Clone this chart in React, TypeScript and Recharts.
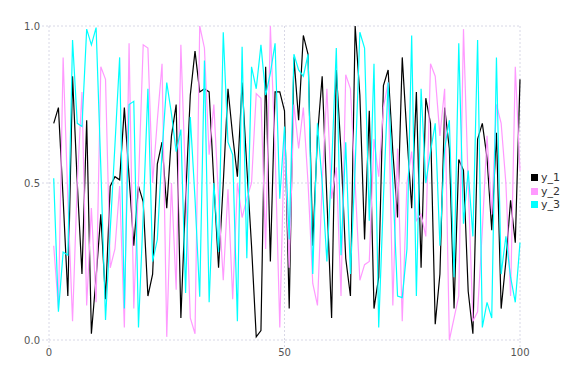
import { LineChart, Line, XAxis, YAxis, CartesianGrid, Legend } from "recharts";

const xs = Array.from({ length: 100 }, (_, i) => i + 1);

const y1 = [
  0.69, 0.74, 0.45, 0.14, 0.84, 0.5, 0.21, 0.7, 0.02, 0.2,
  0.4, 0.13, 0.49, 0.52, 0.51, 0.74, 0.52, 0.3, 0.49, 0.44,
  0.14, 0.21, 0.56, 0.63, 0.42, 0.65, 0.75, 0.07, 0.45, 0.78,
  0.92, 0.79, 0.8, 0.79, 0.5, 0.23, 0.5, 0.8, 0.65, 0.52,
  0.82, 0.55, 0.3, 0.01, 0.03, 0.87, 0.25, 0.79, 0.79, 0.73,
  0.1, 0.9, 0.7, 0.97, 0.91, 0.3, 0.65, 0.84, 0.45, 0.07,
  0.86, 0.6, 0.26, 0.14, 1.0, 0.78, 0.32, 0.73, 0.1, 0.2,
  0.81, 0.86, 0.6, 0.39, 0.9, 0.65, 0.42, 0.79, 0.23, 0.77,
  0.69, 0.05, 0.21, 0.74, 0.61, 0.1, 0.575, 0.54, 0.155, 0.02,
  0.64, 0.69, 0.58, 0.35, 0.66, 0.1, 0.25, 0.445, 0.31, 0.83,
];

const y2 = [
  0.3, 0.1, 0.9, 0.45, 0.06, 0.5, 0.79, 0.11, 0.42, 0.12,
  0.87, 0.83, 0.23, 0.29, 0.49, 0.04, 0.945, 0.1, 0.5, 0.94,
  0.93, 0.5, 0.7, 0.88, 0.01, 0.5, 0.16, 0.94, 0.5, 0.07,
  0.02, 1.0, 0.93, 0.59, 0.75, 0.45, 0.19, 0.48, 0.13, 0.5,
  0.39, 0.45, 0.5, 0.785, 0.77, 0.29, 1.0, 0.6, 0.04, 0.66,
  0.23, 0.75, 0.61, 0.74, 0.5, 0.18, 0.11, 0.5, 0.8, 0.45,
  0.55, 0.14, 0.845, 0.8, 0.5, 0.19, 0.24, 0.25, 0.64, 0.52,
  0.74, 0.82, 0.11, 0.61, 0.06, 0.5, 0.6, 0.38, 0.4, 0.33,
  0.88, 0.84, 0.65, 0.8, 0.0, 0.07, 0.14, 0.99, 0.5, 0.06,
  0.09, 0.35, 0.65, 0.4, 0.75, 0.69, 0.5, 0.14, 0.87, 0.54,
];

const y3 = [
  0.515, 0.09, 0.28, 0.27, 0.955, 0.69, 0.68, 0.99, 0.94, 0.995,
  0.55, 0.064, 0.35, 0.62, 0.9, 0.1, 0.75, 0.76, 0.04, 0.4,
  0.8, 0.25, 0.32, 0.6, 0.82, 0.72, 0.6, 0.67, 0.15, 0.71,
  0.45, 0.138, 0.89, 0.12, 0.5, 0.28, 0.98, 0.63, 0.59, 0.06,
  0.934, 0.26, 0.87, 0.8, 0.94, 0.78, 0.85, 0.945, 0.45, 0.68,
  0.32, 0.91, 0.86, 0.84, 0.91, 0.21, 0.69, 0.5, 0.25, 0.55,
  0.93, 0.27, 0.63, 0.21, 0.55, 0.98, 0.93, 0.38, 0.88, 0.04,
  0.45, 0.82, 0.5, 0.14, 0.135, 0.29, 0.97, 0.14, 0.8, 0.5,
  0.6, 0.69, 0.3, 0.61, 0.7, 0.2, 0.945, 0.37, 0.54, 0.33,
  0.955, 0.04, 0.12, 0.07, 0.9, 0.21, 0.33, 0.2, 0.12, 0.31,
];

const xTicks = [0, 50, 100];
const yTicks = [0, 0.5, 1];

const series = [
  { key: "y_1", color: "#000000" },
  { key: "y_2", color: "#ff99ff" },
  { key: "y_3", color: "#00ffff" },
];

const data = xs.map((x, i) => ({ x, y_1: y1[i], y_2: y2[i], y_3: y3[i] }));

const gridColor = "#d8d8e6";
const tickStyle = { fill: "#555", fontSize: 10, fontFamily: "DejaVu Sans" };

const LegendBox = () => (
  <div style={{ fontFamily: "DejaVu Sans", fontSize: 11, color: "#333" }}>
    {series.map((s) => (
      <div key={s.key} style={{ display: "flex", alignItems: "center", height: 13.5 }}>
        <span style={{ width: 7, height: 7, background: s.color, marginRight: 3, display: "inline-block" }} />
        <span>{s.key}</span>
      </div>
    ))}
  </div>
);

export default function App() {
  return (
    <LineChart
      width={560}
      height={376}
      data={data}
      margin={{ top: 18, right: 48, left: 0, bottom: 14 }}
    >
      <CartesianGrid stroke={gridColor} strokeDasharray="2 2" />
      <XAxis
        dataKey="x"
        type="number"
        domain={[0, 100]}
        ticks={xTicks}
        height={30}
        axisLine={false}
        tickLine={{ stroke: gridColor, strokeDasharray: "2 2" }}
        tickSize={7}
        tick={tickStyle}
      />
      <YAxis
        type="number"
        domain={[0, 1]}
        ticks={yTicks}
        width={41}
        axisLine={false}
        tickLine={{ stroke: gridColor, strokeDasharray: "2 2" }}
        tickSize={7}
        tick={tickStyle}
        tickFormatter={(v: number) => v.toFixed(1)}
      />
      <Legend
        layout="vertical"
        align="center"
        verticalAlign="middle"
        content={() => <LegendBox />}
        wrapperStyle={{ left: 523, top: 163, width: 40 }}
      />
      {series.map((s) => (
        <Line
          key={s.key}
          type="linear"
          dataKey={s.key}
          stroke={s.color}
          strokeWidth={1.2}
          dot={false}
          isAnimationActive={false}
        />
      ))}
    </LineChart>
  );
}
